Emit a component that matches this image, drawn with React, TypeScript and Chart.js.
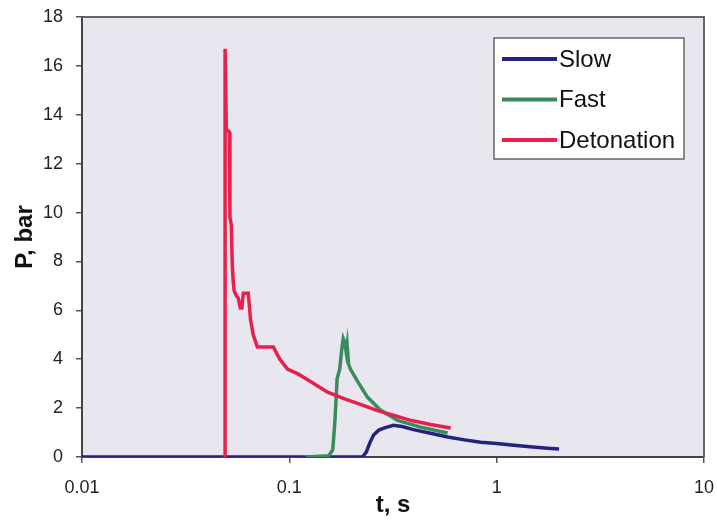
import React, { useEffect, useRef } from "react";
import { Chart, registerables } from "chart.js";

Chart.register(...registerables);

const seriesNames = ["Slow", "Fast", "Detonation"];
const seriesColors = ["#23237c", "#3a8c5c", "#e8204c"];

const slowT = [0.01, 0.225, 0.235, 0.245, 0.255, 0.27, 0.29, 0.318, 0.35, 0.397, 0.48, 0.58, 0.7, 0.838, 1.0, 1.21, 1.45, 1.76, 2.0];
const slowP = [0, 0, 0.2, 0.6, 0.9, 1.1, 1.2, 1.3, 1.25, 1.12, 0.97, 0.82, 0.7, 0.6, 0.55, 0.48, 0.42, 0.36, 0.33];

const fastT = [0.12, 0.155, 0.162, 0.166, 0.17, 0.175, 0.179, 0.182, 0.185, 0.188, 0.19, 0.193, 0.197, 0.213, 0.238, 0.275, 0.333, 0.43, 0.58];
const fastP = [0, 0.05, 0.3, 1.5, 3.2, 3.6, 4.4, 4.85, 4.7, 4.3, 4.6, 3.8, 3.6, 3.1, 2.45, 1.92, 1.5, 1.22, 0.98];

const detT = [0.049, 0.049, 0.0497, 0.0513, 0.0517, 0.0525, 0.053, 0.0536, 0.0542, 0.0555, 0.0567, 0.058, 0.059, 0.06, 0.0634, 0.065, 0.067, 0.0701, 0.0837, 0.09, 0.098, 0.11, 0.126, 0.14, 0.153, 0.182, 0.22, 0.266, 0.32, 0.384, 0.48, 0.6];
const detP = [0, 16.7, 13.4, 13.3, 9.8, 9.5, 8.0, 7.2, 6.8, 6.6, 6.5, 6.1, 6.1, 6.7, 6.7, 5.6, 5.0, 4.5, 4.5, 4.0, 3.6, 3.4, 3.1, 2.85, 2.65, 2.4, 2.15, 1.9, 1.7, 1.5, 1.33, 1.19];

const xTickValues = [0.01, 0.1, 1, 10];
const yMin = 0;
const yMax = 18;
const yStep = 2;

const xTitle = "t, s";
const yTitle = "P, bar";

const FONT = "'Liberation Sans', Arial, sans-serif";

const toPoints = (t: number[], p: number[]) => t.map((x, i) => ({ x, y: p[i] }));

const bgPlugin = {
  id: "plotBg",
  beforeDraw(chart: any) {
    const { ctx, chartArea: a } = chart;
    ctx.save();
    ctx.fillStyle = "#e8e6ee";
    ctx.fillRect(a.left, a.top, a.right - a.left, a.bottom - a.top);
    ctx.restore();
  },
  afterDatasetsDraw(chart: any) {
    const { ctx, chartArea: a } = chart;
    ctx.save();
    ctx.strokeStyle = "#666";
    ctx.lineWidth = 2;
    ctx.beginPath();
    ctx.moveTo(a.left, a.top);
    ctx.lineTo(a.right, a.top);
    ctx.lineTo(a.right, a.bottom);
    ctx.stroke();
    ctx.restore();
  },
};

const legendPlugin = {
  id: "boxLegend",
  afterDraw(chart: any) {
    const { ctx, chartArea: a } = chart;
    const boxRight = a.right - 20;
    const boxLeft = boxRight - 190;
    const boxTop = a.top + 21;
    const boxH = 121;
    ctx.save();
    ctx.fillStyle = "#ffffff";
    ctx.fillRect(boxLeft, boxTop, boxRight - boxLeft, boxH);
    ctx.strokeStyle = "#444";
    ctx.lineWidth = 1.2;
    ctx.strokeRect(boxLeft, boxTop, boxRight - boxLeft, boxH);
    ctx.font = `24px ${FONT}`;
    ctx.textBaseline = "middle";
    ctx.textAlign = "left";
    const items = chart.data.datasets.slice().reverse();
    items.forEach((ds: any, i: number) => {
      const y = boxTop + 21 + i * 40.5;
      ctx.strokeStyle = ds.borderColor;
      ctx.lineWidth = 4;
      ctx.beginPath();
      ctx.moveTo(boxLeft + 8, y);
      ctx.lineTo(boxLeft + 63, y);
      ctx.stroke();
      ctx.fillStyle = "#111";
      ctx.fillText(ds.label, boxLeft + 65, y + 1);
    });
    ctx.restore();
  },
};

export default function App() {
  const ref = useRef<HTMLCanvasElement | null>(null);
  useEffect(() => {
    document.body.style.margin = "0";
    const canvas = ref.current!;
    const datasets = [
      { label: seriesNames[2], data: toPoints(detT, detP), borderColor: seriesColors[2] },
      { label: seriesNames[1], data: toPoints(fastT, fastP), borderColor: seriesColors[1] },
      { label: seriesNames[0], data: toPoints(slowT, slowP), borderColor: seriesColors[0] },
    ].map((d) => ({ ...d, borderWidth: 3.5, pointRadius: 0, tension: 0, fill: false, backgroundColor: d.borderColor }));
    const chart = new Chart(canvas, {
      type: "line",
      data: { datasets },
      plugins: [bgPlugin, legendPlugin],
      options: {
        responsive: false,
        animation: false,
        layout: { padding: { left: 0, right: 13, top: 17, bottom: 0 } },
        plugins: { legend: { display: false }, tooltip: { enabled: false } },
        scales: {
          x: {
            type: "logarithmic",
            min: xTickValues[0],
            max: xTickValues[xTickValues.length - 1],
            afterBuildTicks: (s: any) => {
              s.ticks = xTickValues.map((v) => ({ value: v }));
            },
            afterFit: (s: any) => {
              s.height = 63;
              s.paddingLeft = 0;
              s.paddingRight = 0;
            },
            ticks: {
              autoSkip: false,
              maxRotation: 0,
              color: "#222",
              font: { family: FONT, size: 18 },
              padding: 14,
              callback: (v: any) => String(v),
            },
            grid: { drawOnChartArea: false, drawTicks: true, tickLength: 6, color: "#555", lineWidth: 1.5 },
            border: { color: "#444", width: 2 },
            title: { display: true, text: xTitle, color: "#111", font: { family: FONT, size: 24, weight: "bold" }, padding: { top: 0, bottom: 0 } },
          },
          y: {
            min: yMin,
            max: yMax,
            ticks: { stepSize: yStep, color: "#222", font: { family: FONT, size: 18 }, padding: 13 },
            afterFit: (s: any) => {
              s.width = 82;
              s.paddingTop = 0;
              s.paddingBottom = 0;
            },
            grid: { drawOnChartArea: false, drawTicks: true, tickLength: 6, color: "#555", lineWidth: 1.5 },
            border: { color: "#444", width: 2 },
            title: { display: true, text: yTitle, color: "#111", font: { family: FONT, size: 24, weight: "bold" }, padding: { top: 11, bottom: 0 } },
          },
        },
      },
    } as any);
    return () => chart.destroy();
  }, []);
  return (
    <div style={{ width: 717, height: 520, background: "#fff" }}>
      <canvas ref={ref} width={717} height={520} style={{ display: "block" }} />
    </div>
  );
}
